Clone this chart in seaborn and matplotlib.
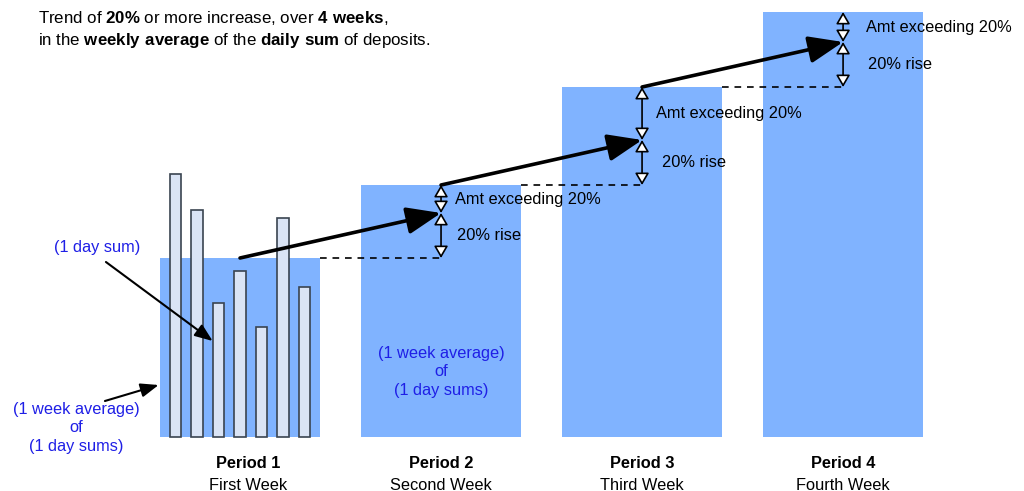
import matplotlib
matplotlib.use("Agg")
import matplotlib.pyplot as plt
import seaborn as sns

sns.set_theme(style="white")
plt.rcParams["font.family"] = ["Liberation Sans", "DejaVu Sans"]
plt.rcParams["text.color"] = "black"
plt.rcParams["mathtext.fontset"] = "custom"
plt.rcParams["mathtext.rm"] = "Liberation Sans"
plt.rcParams["mathtext.bf"] = "Liberation Sans:bold"

# ---------------------------------------------------------------
# data (heights in arbitrary units)
# ---------------------------------------------------------------
periods = ["Period 1", "Period 2", "Period 3", "Period 4"]
weeks = ["First Week", "Second Week", "Third Week", "Fourth Week"]
weekly_avg = [179, 252, 350, 425]
rise_20 = [45, 45, 45]           # 20% rise step drawn above previous week
daily_sums = [263, 227, 134, 166, 110, 219, 150]

BAR_BLUE = "#80b3ff"
DAY_FILL = "#dae4f5"
DAY_EDGE = "#3a4450"
TXT_BLUE = "#1f1fe6"
FS = 11.8

fig = plt.figure(figsize=(10.24, 4.91), dpi=100)
ax = fig.add_axes([0, 0, 1, 1])

# weekly averages
sns.barplot(x=periods, y=weekly_avg, color=BAR_BLUE, saturation=1, width=0.8,
            linewidth=0, ax=ax, zorder=1)

# daily sums inside period 1
day_step = 0.107
day_x = [(i - (len(daily_sums) - 1) / 2) * day_step for i in range(len(daily_sums))]
day_w = 0.058
ax.bar(day_x, daily_sums, width=day_w, color=DAY_FILL, edgecolor=DAY_EDGE,
       linewidth=1.2, zorder=2)

ax.set_xlim(-1.194, 3.9)
ax.set_ylim(-54, 437)
ax.axis("off")

# trend + rise markers
dbl = dict(arrowstyle="<|-|>,head_length=0.6,head_width=0.35", fc="white",
           ec="black", lw=1.2, shrinkA=0, shrinkB=0, mutation_scale=12)
big = dict(arrowstyle="-|>,head_length=1.4,head_width=0.55", fc="black",
           ec="black", lw=2.6, shrinkA=0, shrinkB=0, mutation_scale=15)
amt_dx = [0.07, 0.07, 0.115]
rise_dx = [0.08, 0.1, 0.125]
for i in range(3):
    base = weekly_avg[i]
    mid = base + rise_20[i]
    top = weekly_avg[i + 1]
    xc = i + 1
    # dashed level of previous week
    ax.plot([i + 0.4, xc], [base, base], ls=(0, (4, 3.5)), color="black", lw=1.2, zorder=3)
    ax.annotate("", xy=(xc, base), xytext=(xc, mid), arrowprops=dbl, zorder=4)
    ax.annotate("", xy=(xc, mid), xytext=(xc, top), arrowprops=dbl, zorder=4)
    ax.text(xc + amt_dx[i], (mid + top) / 2, "Amt exceeding 20%", fontsize=FS,
            va="center", ha="left", zorder=5)
    ax.text(xc + rise_dx[i], (base + mid) / 2, "20% rise", fontsize=FS,
            va="center", ha="left", zorder=5)
    # trend arrow
    ax.annotate("", xy=(xc, mid), xytext=(i, base), arrowprops=big, zorder=6)

# blue explanation labels
small = dict(arrowstyle="-|>,head_length=0.9,head_width=0.35", fc="black",
             ec="black", lw=1.5, shrinkA=0, shrinkB=0, mutation_scale=12)
ax.text(-0.711, 190, "(1 day sum)", color=TXT_BLUE, fontsize=FS, ha="center", va="center")
ax.annotate("", xy=(day_x[2] - day_w / 2, 96), xytext=(-0.667, 175),
            arrowprops=small, zorder=6)
ax.text(-0.816, 9, "(1 week average)\nof\n(1 day sums)", color=TXT_BLUE, fontsize=FS,
        ha="center", va="center", linespacing=1.3)
ax.annotate("", xy=(-0.405, 52), xytext=(-0.672, 36), arrowprops=small, zorder=6)
ax.text(1, 65, "(1 week average)\nof\n(1 day sums)", color=TXT_BLUE, fontsize=FS,
        ha="center", va="center", linespacing=1.3)

# period labels
for i, (p, w) in enumerate(zip(periods, weeks)):
    ax.text(i + (0.04 if i == 0 else 0), -27, p, fontsize=FS, fontweight="bold",
            ha="center", va="center")
    ax.text(i + (0.04 if i == 0 else 0), -48, w, fontsize=FS, ha="center", va="center")

# heading
fig.text(38 / 1024, 1 - 18 / 491,
         "Trend of $\\bf{20\\%}$ or more increase, over $\\bf{4\\ weeks}$,",
         fontsize=12.2, ha="left", va="center")
fig.text(38 / 1024, 1 - 40 / 491,
         "in the $\\bf{weekly\\ average}$ of the $\\bf{daily\\ sum}$ of deposits.",
         fontsize=12.2, ha="left", va="center")

fig.savefig("out.png", dpi=100)
